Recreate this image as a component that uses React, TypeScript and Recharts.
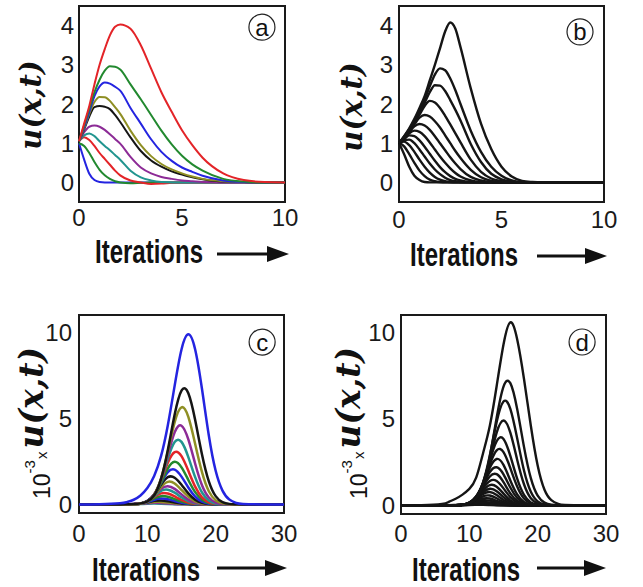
import React from 'react';
import { LineChart, Line, XAxis, YAxis, ReferenceArea, ReferenceDot } from 'recharts';

// colours used in the coloured panels (a) and (c)
const RED = '#e32428';
const GREEN = '#22892f';
const BLUE = '#2424e0';
const OLIVE = '#8f8f24';
const BLACK = '#151515';
const PURPLE = '#8c2b96';
const TEAL = '#21958f';

const SANS = "'Liberation Sans', Arial, sans-serif";
const SERIF = "'DejaVu Serif', 'Liberation Serif', serif";

// ---------- panel (a) ----------
const A_X = [0, 0.25, 0.5, 0.75, 1, 1.25, 1.5, 1.75, 2, 2.5, 3, 3.5, 4, 4.5, 5, 5.5, 6, 7, 8, 9, 10];
const aBlue2 = [1.0, 0.58, 0.22, 0.06, 0.01, 0, 0, 0, 0, 0, 0, 0, 0, 0, 0, 0, 0, 0, 0, 0, 0];
const aGreen2 = [1.0, 0.93, 0.75, 0.52, 0.32, 0.18, 0.09, 0.03, 0.0, -0.02, -0.01, 0, 0, 0, 0, 0, 0, 0, 0, 0, 0];
const aRed2 = [1.05, 1.15, 1.08, 0.93, 0.75, 0.6, 0.45, 0.3, 0.18, 0.05, 0, -0.04, -0.03, -0.01, 0, 0, 0, 0, 0, 0, 0];
const aTeal = [1.05, 1.2, 1.25, 1.18, 1.05, 0.93, 0.82, 0.7, 0.58, 0.3, 0.13, 0.05, 0.01, 0, 0, 0, 0, 0, 0, 0, 0];
const aPurple = [1.05, 1.28, 1.42, 1.45, 1.42, 1.34, 1.23, 1.11, 0.99, 0.65, 0.38, 0.23, 0.14, 0.09, 0.05, 0.03, 0.01, 0, 0, 0, 0];
const aBlack = [1.05, 1.35, 1.68, 1.92, 1.95, 1.93, 1.87, 1.72, 1.54, 1.15, 0.8, 0.56, 0.4, 0.28, 0.2, 0.13, 0.08, 0.02, 0.01, 0, 0];
const aOlive = [1.05, 1.38, 1.75, 2.05, 2.18, 2.17, 2.08, 1.92, 1.75, 1.32, 0.95, 0.67, 0.47, 0.33, 0.23, 0.15, 0.09, 0.03, 0.01, 0, 0];
const aBlue1 = [1.05, 1.4, 1.8, 2.2, 2.45, 2.55, 2.52, 2.44, 2.34, 1.9, 1.5, 1.1, 0.78, 0.55, 0.38, 0.27, 0.17, 0.05, 0.01, 0, 0];
const aGreen1 = [1.05, 1.45, 1.88, 2.3, 2.62, 2.85, 2.96, 2.95, 2.88, 2.5, 2.12, 1.72, 1.32, 0.97, 0.68, 0.46, 0.3, 0.09, 0.02, 0, 0];
const aRed1 = [1.05, 1.5, 1.95, 2.5, 3.0, 3.4, 3.75, 3.97, 4.03, 3.92, 3.5, 2.9, 2.3, 1.8, 1.33, 0.95, 0.63, 0.23, 0.06, 0.01, 0];

// ---------- panel (b) ----------
const B_X = [0, 0.25, 0.5, 0.75, 1, 1.25, 1.5, 1.75, 2, 2.25, 2.5, 2.75, 3, 3.5, 4, 4.5, 5, 5.5, 6, 6.5, 7, 8, 10];
const b12 = [1, 0.72, 0.4, 0.17, 0.06, 0.01, 0, 0, 0, 0, 0, 0, 0, 0, 0, 0, 0, 0, 0, 0, 0, 0, 0];
const b11 = [1, 0.92, 0.72, 0.5, 0.3, 0.16, 0.07, 0.03, 0.01, 0, 0, 0, 0, 0, 0, 0, 0, 0, 0, 0, 0, 0, 0];
const b10 = [1, 1.04, 0.95, 0.78, 0.58, 0.4, 0.25, 0.14, 0.07, 0.03, 0.01, 0, 0, 0, 0, 0, 0, 0, 0, 0, 0, 0, 0];
const b9 = [1, 1.08, 1.09, 1.0, 0.84, 0.66, 0.48, 0.33, 0.21, 0.12, 0.06, 0.03, 0.01, 0, 0, 0, 0, 0, 0, 0, 0, 0, 0];
const b8 = [1, 1.1, 1.2, 1.18, 1.07, 0.91, 0.73, 0.55, 0.39, 0.26, 0.16, 0.09, 0.05, 0.01, 0, 0, 0, 0, 0, 0, 0, 0, 0];
const b7 = [1, 1.12, 1.25, 1.32, 1.29, 1.18, 1.02, 0.84, 0.66, 0.5, 0.36, 0.24, 0.15, 0.05, 0.01, 0, 0, 0, 0, 0, 0, 0, 0];
const b6 = [1, 1.13, 1.28, 1.43, 1.49, 1.45, 1.34, 1.18, 1.0, 0.82, 0.64, 0.48, 0.34, 0.14, 0.05, 0.01, 0, 0, 0, 0, 0, 0, 0];
const b5 = [1, 1.14, 1.3, 1.48, 1.65, 1.72, 1.68, 1.56, 1.4, 1.2, 1.0, 0.8, 0.62, 0.32, 0.13, 0.04, 0.01, 0, 0, 0, 0, 0, 0];
const b4 = [1, 1.15, 1.32, 1.52, 1.73, 1.95, 2.08, 2.04, 1.9, 1.7, 1.48, 1.25, 1.02, 0.58, 0.27, 0.1, 0.03, 0, 0, 0, 0, 0, 0];
const b3 = [1, 1.16, 1.34, 1.55, 1.78, 2.03, 2.3, 2.48, 2.47, 2.33, 2.1, 1.85, 1.58, 0.98, 0.52, 0.22, 0.08, 0.02, 0, 0, 0, 0, 0];
const b2 = [1, 1.17, 1.36, 1.58, 1.84, 2.12, 2.45, 2.75, 2.91, 2.86, 2.65, 2.35, 2.0, 1.32, 0.78, 0.4, 0.17, 0.05, 0.01, 0, 0, 0, 0];
const b1 = [1, 1.18, 1.38, 1.62, 1.9, 2.2, 2.6, 3.0, 3.42, 3.85, 4.08, 3.92, 3.45, 2.4, 1.5, 0.85, 0.4, 0.15, 0.04, 0.01, 0, 0, 0];

// ---------- panels (c) and (d), values in units of 1e-3 ----------
const CD_X = [0, 3, 6, 7, 8, 9, 10, 11, 12, 13, 14, 15, 16, 17, 18, 19, 20, 21, 22, 23, 24, 27, 30];
const c19 = [0, 0, 0, 0, 0.005, 0.02, 0.043, 0.05, 0.041, 0.026, 0.012, 0.004, 0.001, 0, 0, 0, 0, 0, 0, 0, 0, 0, 0];
const c18 = [0, 0, 0, 0, 0.008, 0.03, 0.066, 0.09, 0.08, 0.055, 0.028, 0.011, 0.003, 0, 0, 0, 0, 0, 0, 0, 0, 0, 0];
const c17 = [0, 0, 0, 0, 0.008, 0.035, 0.09, 0.144, 0.143, 0.105, 0.059, 0.025, 0.008, 0.002, 0, 0, 0, 0, 0, 0, 0, 0, 0];
const c16 = [0, 0, 0, 0, 0.009, 0.04, 0.116, 0.205, 0.227, 0.18, 0.11, 0.05, 0.018, 0.005, 0, 0, 0, 0, 0, 0, 0, 0, 0];
const c15 = [0, 0, 0, 0, 0.0075, 0.04, 0.13, 0.27, 0.34, 0.3, 0.2, 0.1, 0.037, 0.011, 0.002, 0, 0, 0, 0, 0, 0, 0, 0];
const c14 = [0, 0, 0, 0, 0.01, 0.05, 0.16, 0.35, 0.476, 0.44, 0.31, 0.16, 0.065, 0.02, 0.005, 0, 0, 0, 0, 0, 0, 0, 0];
const c13 = [0, 0, 0, 0, 0.009, 0.05, 0.18, 0.43, 0.64, 0.63, 0.46, 0.26, 0.11, 0.035, 0.009, 0, 0, 0, 0, 0, 0, 0, 0];
const c12 = [0, 0, 0, 0, 0.009, 0.05, 0.19, 0.47, 0.78, 0.85, 0.68, 0.41, 0.19, 0.066, 0.017, 0.003, 0, 0, 0, 0, 0, 0, 0];
const c11 = [0, 0, 0, 0, 0.01, 0.054, 0.205, 0.52, 0.905, 1.06, 0.9, 0.58, 0.28, 0.1, 0.029, 0.006, 0, 0, 0, 0, 0, 0, 0];
const c10 = [0, 0, 0, 0, 0.012, 0.042, 0.18, 0.51, 1.0, 1.31, 1.21, 0.84, 0.45, 0.18, 0.054, 0.013, 0, 0, 0, 0, 0, 0, 0];
const c9 = [0, 0, 0, 0, 0.015, 0.047, 0.195, 0.566, 1.14, 1.58, 1.55, 1.14, 0.64, 0.27, 0.086, 0.021, 0.004, 0, 0, 0, 0, 0, 0];
const c8 = [0, 0, 0, 0, 0.02, 0.045, 0.19, 0.58, 1.24, 1.87, 2.02, 1.61, 0.98, 0.45, 0.157, 0.041, 0.008, 0, 0, 0, 0, 0, 0];
const c7 = [0, 0, 0, 0, 0.01, 0.045, 0.155, 0.52, 1.24, 2.08, 2.47, 2.15, 1.42, 0.71, 0.27, 0.077, 0.017, 0, 0, 0, 0, 0, 0];
const c6 = [0, 0, 0, 0, 0.01, 0.05, 0.17, 0.575, 1.39, 2.42, 3.04, 2.8, 1.95, 1.03, 0.41, 0.125, 0.03, 0.005, 0, 0, 0, 0, 0];
const c5 = [0, 0, 0, 0, 0.01, 0.05, 0.165, 0.57, 1.43, 2.66, 3.62, 3.63, 2.75, 1.58, 0.69, 0.23, 0.056, 0.011, 0, 0, 0, 0, 0];
const c4 = [0, 0, 0, 0, 0.02, 0.05, 0.16, 0.56, 1.46, 2.87, 4.19, 4.57, 3.77, 2.36, 1.11, 0.4, 0.11, 0.025, 0, 0, 0, 0, 0];
const c3 = [0, 0, 0, 0, 0.01, 0.05, 0.17, 0.55, 1.49, 3.07, 4.78, 5.64, 5.08, 3.51, 1.87, 0.76, 0.24, 0.06, 0.01, 0, 0, 0, 0];
const c2 = [0, 0, 0, 0.01, 0.02, 0.06, 0.18, 0.53, 1.47, 3.16, 5.22, 6.61, 6.45, 4.9, 2.9, 1.34, 0.48, 0.13, 0.03, 0.01, 0, 0, 0];
const c1 = [0, 0.01, 0.06, 0.13, 0.27, 0.52, 0.95, 1.65, 2.8, 4.6, 6.9, 9.0, 9.88, 9.0, 6.7, 4.0, 1.95, 0.8, 0.28, 0.08, 0.02, 0, 0];

const d20 = [0, 0, 0, 0, 0, 0.006, 0.017, 0.028, 0.029, 0.017, 0.006, 0.001, 0, 0, 0, 0, 0, 0, 0, 0, 0, 0, 0];
const d19 = [0, 0, 0, 0, 0.002, 0.012, 0.035, 0.062, 0.069, 0.047, 0.02, 0.005, 0, 0, 0, 0, 0, 0, 0, 0, 0, 0, 0];
const d18 = [0, 0, 0, 0, 0.003, 0.016, 0.051, 0.099, 0.12, 0.09, 0.042, 0.012, 0.002, 0, 0, 0, 0, 0, 0, 0, 0, 0, 0];
const d17 = [0, 0, 0, 0, 0.004, 0.02, 0.07, 0.15, 0.2, 0.165, 0.085, 0.027, 0.005, 0, 0, 0, 0, 0, 0, 0, 0, 0, 0];
const d16 = [0, 0, 0, 0, 0.005, 0.027, 0.093, 0.206, 0.294, 0.269, 0.158, 0.059, 0.014, 0.002, 0, 0, 0, 0, 0, 0, 0, 0, 0];
const d15 = [0, 0, 0, 0, 0.005, 0.028, 0.105, 0.255, 0.397, 0.397, 0.255, 0.105, 0.028, 0.005, 0, 0, 0, 0, 0, 0, 0, 0, 0];
const d14 = [0, 0, 0, 0, 0.006, 0.033, 0.127, 0.318, 0.524, 0.569, 0.408, 0.193, 0.06, 0.012, 0.002, 0, 0, 0, 0, 0, 0, 0, 0];
const d13 = [0, 0, 0, 0, 0.008, 0.032, 0.133, 0.363, 0.65, 0.77, 0.6, 0.31, 0.104, 0.023, 0.004, 0, 0, 0, 0, 0, 0, 0, 0];
const d12 = [0, 0, 0, 0, 0.01, 0.036, 0.147, 0.41, 0.76, 0.96, 0.82, 0.47, 0.185, 0.049, 0.009, 0, 0, 0, 0, 0, 0, 0, 0];
const d11 = [0, 0, 0, 0, 0.01, 0.032, 0.142, 0.42, 0.86, 1.17, 1.08, 0.68, 0.29, 0.082, 0.016, 0.002, 0, 0, 0, 0, 0, 0, 0];
const d10 = [0, 0, 0, 0, 0.01, 0.036, 0.156, 0.47, 0.98, 1.41, 1.41, 0.98, 0.47, 0.156, 0.036, 0.006, 0, 0, 0, 0, 0, 0, 0];
const d9 = [0, 0, 0, 0, 0.01, 0.032, 0.148, 0.48, 1.08, 1.67, 1.8, 1.34, 0.69, 0.25, 0.06, 0.01, 0, 0, 0, 0, 0, 0, 0];
const d8 = [0, 0, 0, 0, 0.01, 0.035, 0.16, 0.515, 1.18, 1.92, 2.2, 1.79, 1.03, 0.42, 0.12, 0.025, 0.003, 0, 0, 0, 0, 0, 0];
const d7 = [0, 0, 0, 0, 0.008, 0.03, 0.147, 0.51, 1.25, 2.18, 2.68, 2.34, 1.44, 0.63, 0.19, 0.042, 0.007, 0, 0, 0, 0, 0, 0];
const d6 = [0, 0, 0, 0, 0.008, 0.028, 0.139, 0.5, 1.28, 2.37, 3.18, 3.08, 2.15, 1.09, 0.39, 0.1, 0.02, 0, 0, 0, 0, 0, 0];
const d5 = [0, 0, 0, 0, 0.01, 0.03, 0.125, 0.475, 1.31, 2.59, 3.71, 3.84, 2.86, 1.54, 0.6, 0.167, 0.034, 0.005, 0, 0, 0, 0, 0];
const d4 = [0, 0, 0, 0, 0.01, 0.03, 0.103, 0.41, 1.22, 2.64, 4.2, 4.9, 4.2, 2.64, 1.22, 0.41, 0.103, 0.019, 0.003, 0, 0, 0, 0];
const d3 = [0, 0, 0, 0, 0.01, 0.035, 0.11, 0.43, 1.3, 2.89, 4.82, 6.0, 5.58, 3.88, 2.01, 0.78, 0.225, 0.048, 0.008, 0, 0, 0, 0];
const d2 = [0, 0, 0, 0.01, 0.02, 0.04, 0.12, 0.385, 1.2, 2.83, 5.06, 6.86, 7.06, 5.57, 3.38, 1.57, 0.56, 0.156, 0.033, 0.005, 0, 0, 0];
const d1 = [0, 0.01, 0.08, 0.2, 0.38, 0.62, 0.95, 1.6, 3.0, 4.6, 6.9, 9.3, 10.58, 9.6, 7.3, 4.6, 2.3, 0.9, 0.3, 0.08, 0.02, 0, 0];

type Series = { key: string; values: number[]; color: string };

// drawn small first so the big curves sit on top
const SERIES_A: Series[] = [
  { key: 'blue2', values: aBlue2, color: BLUE },
  { key: 'green2', values: aGreen2, color: GREEN },
  { key: 'red2', values: aRed2, color: RED },
  { key: 'teal', values: aTeal, color: TEAL },
  { key: 'purple', values: aPurple, color: PURPLE },
  { key: 'black', values: aBlack, color: BLACK },
  { key: 'olive', values: aOlive, color: OLIVE },
  { key: 'blue1', values: aBlue1, color: BLUE },
  { key: 'green1', values: aGreen1, color: GREEN },
  { key: 'red1', values: aRed1, color: RED },
];

const SERIES_B: Series[] = [b12, b11, b10, b9, b8, b7, b6, b5, b4, b3, b2, b1].map((values, i) => ({
  key: `b${12 - i}`,
  values,
  color: BLACK,
}));

const C_COLORS = [BLUE, BLACK, OLIVE, PURPLE, TEAL, RED, GREEN];
const C_LIST = [c1, c2, c3, c4, c5, c6, c7, c8, c9, c10, c11, c12, c13, c14, c15, c16, c17, c18, c19];
const SERIES_C: Series[] = C_LIST.map((values, i) => ({
  key: `c${i + 1}`,
  values,
  color: C_COLORS[i % C_COLORS.length],
})).reverse();

const D_LIST = [d1, d2, d3, d4, d5, d6, d7, d8, d9, d10, d11, d12, d13, d14, d15, d16, d17, d18, d19, d20];
const SERIES_D: Series[] = D_LIST.map((values, i) => ({ key: `d${i + 1}`, values, color: BLACK })).reverse();

const buildRows = (xs: number[], series: Series[]) =>
  xs.map((x, i) => {
    const row: Record<string, number> = { x };
    series.forEach((s) => {
      row[s.key] = s.values[i];
    });
    return row;
  });

const TICK = { fontSize: 24, fill: '#1a1a1a', fontFamily: SANS };

const UxtLabel = ({ lx, ly }: { lx: number; ly: number }) => (
  <text
    x={lx}
    y={ly}
    transform={`rotate(-90 ${lx} ${ly})`}
    textAnchor="middle"
    fontFamily={SERIF}
    fontWeight="bold"
    fontStyle="italic"
    fontSize={29}
    fill="#111"
  >
    u(x,t)
  </text>
);

const ScaledLabel = ({ lx, ly }: { lx: number; ly: number }) => (
  <text x={lx} y={ly} transform={`rotate(-90 ${lx} ${ly})`} textAnchor="middle" fill="#111">
    <tspan fontFamily={SANS} fontSize={23}>10</tspan>
    <tspan fontFamily={SANS} fontSize={15} dy={-15}>-3</tspan>
    <tspan fontFamily={SANS} fontSize={15} dy={12} dx={1}>x</tspan>
    <tspan fontFamily={SERIF} fontWeight="bold" fontStyle="italic" fontSize={33} dy={-4} dx={3}>
      u(x,t)
    </tspan>
  </text>
);

const IterLabel = ({ lx, base, ay, a0, a1 }: { lx: number; base: number; ay: number; a0: number; a1: number }) => (
  <g>
    <text
      x={lx}
      y={base}
      fontFamily={SANS}
      fontWeight="bold"
      fontSize={33}
      textLength={108}
      lengthAdjust="spacingAndGlyphs"
      fill="#111"
    >
      Iterations
    </text>
    <line x1={a0} y1={ay} x2={a1 - 18} y2={ay} stroke="#111" strokeWidth={3} />
    <polygon points={`${a1 - 22},${ay - 8} ${a1},${ay} ${a1 - 22},${ay + 8}`} fill="#111" />
  </g>
);

type PanelProps = {
  left: number;
  top: number;
  width: number;
  height: number;
  margin: { top: number; right: number; bottom: number; left: number };
  xs: number[];
  series: Series[];
  xDomain: [number, number];
  xTicks: number[];
  yDomain: [number, number];
  yTicks: number[];
  curve: 'monotone' | 'natural';
  lineWidth: number;
  xGap: number;
  yGap: number;
  tag: string;
  tagX: number;
  tagY: number;
  yLabel: React.ReactElement;
  xLabel: React.ReactElement;
};

const Panel = (p: PanelProps) => {
  const rows = buildRows(p.xs, p.series);
  return (
    <div style={{ position: 'absolute', left: p.left, top: p.top }}>
      <LineChart width={p.width} height={p.height} data={rows} margin={p.margin}>
        <XAxis
          type="number"
          dataKey="x"
          domain={p.xDomain}
          ticks={p.xTicks}
          interval={0}
          axisLine={false}
          tickLine={false}
          tickSize={0}
          tickMargin={p.xGap}
          height={30}
          tick={TICK}
          label={p.xLabel}
        />
        <YAxis
          type="number"
          domain={p.yDomain}
          ticks={p.yTicks}
          interval={0}
          axisLine={false}
          tickLine={false}
          tickSize={0}
          tickMargin={p.yGap}
          width={40}
          tick={TICK}
          label={p.yLabel}
        />
        {p.series.map((s) => (
          <Line
            key={s.key}
            dataKey={s.key}
            type={p.curve}
            stroke={s.color}
            strokeWidth={p.lineWidth}
            dot={false}
            activeDot={false}
            isAnimationActive={false}
          />
        ))}
        <ReferenceArea
          x1={p.xDomain[0]}
          x2={p.xDomain[1]}
          y1={p.yDomain[0]}
          y2={p.yDomain[1]}
          fill="none"
          stroke="#1a1a1a"
          strokeWidth={2}
        />
        <ReferenceDot
          x={p.tagX}
          y={p.tagY}
          r={13}
          fill="#fff"
          stroke="#222"
          strokeWidth={1.2}
          label={{ value: p.tag, position: 'center', fontSize: 24, fill: '#111', fontFamily: SANS }}
        />
      </LineChart>
    </div>
  );
};

export default function App() {
  return (
    <div style={{ position: 'absolute', left: 0, top: 0, width: 643, height: 587, background: '#fff' }}>
      <Panel
        left={0}
        top={0}
        width={310}
        height={280}
        margin={{ top: 6, right: 25, bottom: 48, left: 39 }}
        xs={A_X}
        series={SERIES_A}
        xDomain={[0, 10]}
        xTicks={[0, 5, 10]}
        yDomain={[-0.5, 4.5]}
        yTicks={[0, 1, 2, 3, 4]}
        curve="monotone"
        lineWidth={2}
        xGap={7}
        yGap={5}
        tag="a"
        tagX={8.88}
        tagY={3.96}
        yLabel={<UxtLabel lx={41} ly={105} />}
        xLabel={<IterLabel lx={95} base={263} ay={254} a0={217} a1={289} />}
      />
      <Panel
        left={320}
        top={0}
        width={310}
        height={280}
        margin={{ top: 6, right: 26, bottom: 48, left: 39 }}
        xs={B_X}
        series={SERIES_B}
        xDomain={[0, 10]}
        xTicks={[0, 5, 10]}
        yDomain={[-0.5, 4.5]}
        yTicks={[0, 1, 2, 3, 4]}
        curve="monotone"
        lineWidth={2.4}
        xGap={9}
        yGap={6}
        tag="b"
        tagX={8.83}
        tagY={3.84}
        yLabel={<UxtLabel lx={42} ly={107} />}
        xLabel={<IterLabel lx={90} base={266} ay={256} a0={217} a1={287} />}
      />
      <Panel
        left={0}
        top={300}
        width={310}
        height={287}
        margin={{ top: 15, right: 26, bottom: 44, left: 39 }}
        xs={CD_X}
        series={SERIES_C}
        xDomain={[0, 30]}
        xTicks={[0, 10, 20, 30]}
        yDomain={[-0.5, 11]}
        yTicks={[0, 5, 10]}
        curve="natural"
        lineWidth={2.5}
        xGap={12}
        yGap={7}
        tag="c"
        tagX={26.8}
        tagY={9.43}
        yLabel={<ScaledLabel lx={50} ly={123} />}
        xLabel={<IterLabel lx={92} base={281} ay={268} a0={217} a1={287} />}
      />
      <Panel
        left={320}
        top={300}
        width={310}
        height={287}
        margin={{ top: 15, right: 24, bottom: 43, left: 41 }}
        xs={CD_X}
        series={SERIES_D}
        xDomain={[0, 30]}
        xTicks={[0, 10, 20, 30]}
        yDomain={[-0.5, 11]}
        yTicks={[0, 5, 10]}
        curve="natural"
        lineWidth={2.4}
        xGap={11}
        yGap={6}
        tag="d"
        tagX={26.5}
        tagY={9.44}
        yLabel={<ScaledLabel lx={47} ly={123} />}
        xLabel={<IterLabel lx={92} base={281} ay={268} a0={217} a1={286} />}
      />
    </div>
  );
}
